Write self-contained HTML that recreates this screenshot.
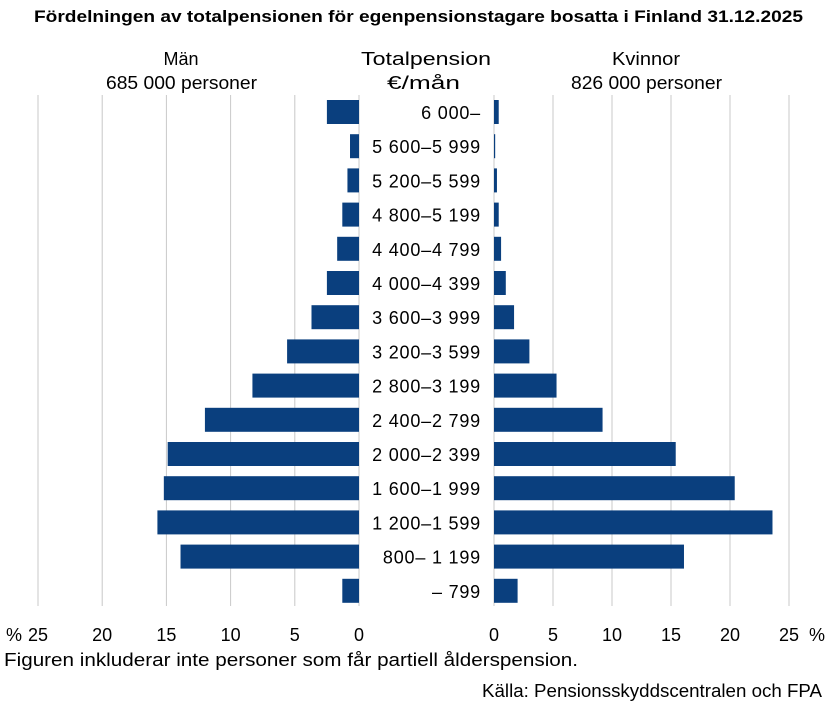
<!DOCTYPE html>
<html><head><meta charset="utf-8"><style>
body{margin:0;background:#fff;font-family:"Liberation Sans",sans-serif;}
svg text{font-family:"Liberation Sans",sans-serif;fill:#000;}
</style></head><body>
<svg id="chart" width="838" height="707">
<text x="34" y="22" font-size="17" font-weight="bold" textLength="769" lengthAdjust="spacingAndGlyphs">Fördelningen av totalpensionen för egenpensionstagare bosatta i Finland 31.12.2025</text>
<text x="181" y="65" text-anchor="middle" font-size="18">Män</text>
<text x="106" y="89" font-size="18" textLength="151" lengthAdjust="spacingAndGlyphs">685 000 personer</text>
<text x="361" y="65" font-size="18" textLength="130" lengthAdjust="spacingAndGlyphs">Totalpension</text>
<text x="387" y="89" font-size="18" textLength="73" lengthAdjust="spacingAndGlyphs">€/mån</text>
<text x="612" y="65" font-size="18" textLength="68" lengthAdjust="spacingAndGlyphs">Kvinnor</text>
<text x="571" y="89" font-size="18" textLength="151" lengthAdjust="spacingAndGlyphs">826 000 personer</text>
<g id="grid"></g><g id="bars"></g><g id="labels"></g><g id="ticks"></g>
<text x="6" y="641" font-size="18">%</text>
<text x="809" y="641" font-size="18">%</text>
<text x="4" y="666" font-size="18" textLength="574" lengthAdjust="spacingAndGlyphs">Figuren inkluderar inte personer som får partiell ålderspension.</text>
<text x="482" y="697" font-size="18" textLength="340" lengthAdjust="spacingAndGlyphs">Källa: Pensionsskyddscentralen  och FPA</text>
</svg>
<script>
const categories=["6 000–","5 600–5 999","5 200–5 599","4 800–5 199","4 400–4 799","4 000–4 399","3 600–3 999","3 200–3 599","2 800–3 199","2 400–2 799","2 000–2 399","1 600–1 999","1 200–1 599","800– 1 199","–  799"];
const menValues=[2.5,0.7,0.9,1.3,1.7,2.5,3.7,5.6,8.3,12.0,14.9,15.2,15.7,13.9,1.3];
const womenValues=[0.4,0.1,0.25,0.4,0.6,1.0,1.7,3.0,5.3,9.2,15.4,20.4,23.6,16.1,2.0];
const tickValues=[0,5,10,15,20,25];
const NS="http://www.w3.org/2000/svg";
const xL=v=>359-v*(321/25), xR=v=>494+v*(295/25);
const yC=i=>112+i*34.2;
function mk(t,a,p){const e=document.createElementNS(NS,t);for(const k in a)e.setAttribute(k,a[k]);document.getElementById(p).appendChild(e);return e;}
tickValues.forEach(v=>{
 let g=mk("line",{x1:xL(v),x2:xL(v),y1:95,y2:606,stroke:"#c8c8c8","stroke-width":1},"grid");
 
 
 let g2=mk("line",{x1:xR(v),x2:xR(v),y1:95,y2:606,stroke:"#c8c8c8","stroke-width":1},"grid");
 
 
 let t=mk("text",{x:xL(v),y:641,"text-anchor":"middle","font-size":18},"ticks");t.textContent=v;
 
 
 let t2=mk("text",{x:xR(v),y:641,"text-anchor":"middle","font-size":18},"ticks");t2.textContent=v;
 
 
});
categories.forEach((c,i)=>{
 const y=yC(i);
 let b=mk("rect",{x:xL(menValues[i]),y:y-12,width:xL(0)-xL(menValues[i]),height:24,fill:"#0a3f7e"},"bars");
 
 
 let b2=mk("rect",{x:xR(0),y:y-12,width:xR(womenValues[i])-xR(0),height:24,fill:"#0a3f7e"},"bars");
 
 
 let t=mk("text",{x:481,y:y+7,"text-anchor":"end","font-size":18,"letter-spacing":0.8},"labels");t.textContent=c;
 
 
});
</script>
</body></html>
